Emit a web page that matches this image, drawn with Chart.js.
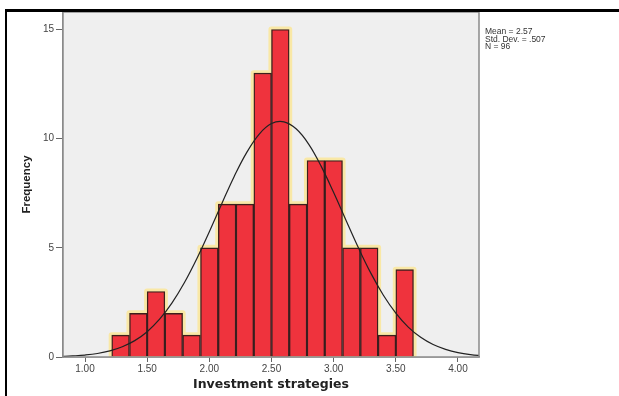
<!DOCTYPE html>
<html>
<head>
<meta charset="utf-8">
<script src="https://cdn.jsdelivr.net/npm/chart.js@4/dist/chart.umd.min.js"></script>
<style>
    html, body { margin: 0; padding: 0; background: #fff; }
    canvas { display: block; }
</style>
</head>
<body>
<canvas id="histChart" width="619" height="396"></canvas>
<script>
// histogram bins (centres) and counts
const binCenters = [1.286, 1.429, 1.571, 1.714, 1.857, 2.000, 2.143, 2.286, 2.429,
    2.571, 2.714, 2.857, 3.000, 3.143, 3.286, 3.429, 3.571];
const frequencies = [1, 2, 3, 2, 1, 5, 7, 7, 13, 15, 7, 9, 9, 5, 5, 1, 4];

// normal curve
const curveX = [0.8, 0.9, 1.0, 1.1, 1.2, 1.3, 1.4, 1.5, 1.6, 1.7, 1.8, 1.9, 2.0, 2.1, 2.2,
    2.3, 2.4, 2.5, 2.6, 2.7, 2.8, 2.9, 3.0, 3.1, 3.2, 3.3, 3.4, 3.5, 3.6, 3.7, 3.8, 3.9, 4.0, 4.1, 4.2];
const curveY = [0.02, 0.05, 0.09, 0.16, 0.28, 0.47, 0.75, 1.16, 1.73, 2.48, 3.41, 4.51, 5.74, 7.02, 8.27,
    9.36, 10.20, 10.69, 10.77, 10.44, 9.74, 8.73, 7.53, 6.25, 4.99, 3.83, 2.83, 2.01, 1.37, 0.90, 0.57, 0.35, 0.20, 0.11, 0.06];

const xTicks = [1.0, 1.5, 2.0, 2.5, 3.0, 3.5, 4.0];
const yTicks = [0, 5, 10, 15];
const statLines = ['Mean = 2.57', 'Std. Dev. = .507', 'N = 96'];

// outline around the whole histogram (the pale yellow glow)
let half = (binCenters[1] - binCenters[0]) / 2;
let outline = [{x: binCenters[0] - half, y: 0}];
binCenters.forEach(function(c, i){
    outline.push({x: c - half, y: frequencies[i]});
    outline.push({x: c + half, y: frequencies[i]});
});
let lastC = binCenters[binCenters.length - 1];
outline.push({x: lastC + half, y: 0});
outline.push({x: binCenters[0] - half, y: 0});

const framePlugin = {
    id: 'framePlugin',
    beforeDatasetsDraw: function(chart){
        let ctx = chart.ctx;
        let a = chart.chartArea;
        ctx.save();
        ctx.fillStyle = '#efefef';
        ctx.fillRect(a.left, a.top, a.right - a.left, a.bottom - a.top);
        ctx.restore();
    },
    afterDraw: function(chart){
        let ctx = chart.ctx;
        let a = chart.chartArea;
        ctx.save();
        ctx.strokeStyle = '#8a8a8a';
        ctx.lineWidth = 1.5;
        ctx.strokeRect(a.left, a.top, a.right - a.left, a.bottom - a.top);

        // black outer frame
        ctx.fillStyle = '#000';
        ctx.fillRect(5, 9, 614, 3);
        ctx.fillRect(5, 9, 2, 387);

        ctx.fillStyle = '#333';
        ctx.font = '8.5px "Liberation Sans", Arial, sans-serif';
        ctx.textBaseline = 'middle';
        statLines.forEach(function(t, i){
            ctx.fillText(t, 485, 32 + i * 7.5);
        });
        ctx.restore();
    }
};

new Chart(document.getElementById('histChart'), {
    type: 'bar',
    data: {
        datasets: [{
            type: 'line',
            data: curveX.map(function(x, i){ return {x: x, y: curveY[i]}; }),
            borderColor: '#222',
            borderWidth: 1.2,
            pointRadius: 0,
            tension: 0.4,
            order: 1
        }, {
            type: 'bar',
            data: binCenters.map(function(c, i){ return {x: c, y: frequencies[i]}; }),
            backgroundColor: '#ef333d',
            borderColor: 'rgba(50, 20, 20, 0.95)',
            borderWidth: 1.4,
            barPercentage: 1,
            categoryPercentage: 1,
            order: 2
        }, {
            type: 'line',
            data: outline,
            borderColor: '#f9e8a6',
            borderWidth: 6,
            borderJoinStyle: 'round',
            pointRadius: 0,
            tension: 0,
            fill: false,
            order: 3
        }]
    },
    options: {
        responsive: false,
        animation: false,
        devicePixelRatio: 1,
        layout: {
            padding: {left: 0, right: 140, top: 12, bottom: 0}
        },
        plugins: {
            legend: {display: false},
            tooltip: {enabled: false}
        },
        scales: {
            x: {
                type: 'linear',
                min: 0.823,
                max: 4.169,
                offset: false,
                afterFit: function(scale){ scale.height = 39; },
                afterBuildTicks: function(scale){
                    scale.ticks = xTicks.map(function(v){ return {value: v}; });
                },
                grid: {
                    drawOnChartArea: false,
                    drawTicks: true,
                    tickLength: 5,
                    color: '#666',
                    offset: false
                },
                border: {display: true, color: '#8a8a8a', width: 1.5},
                ticks: {
                    padding: 1,
                    color: '#444',
                    maxRotation: 0,
                    font: {family: '"Liberation Sans", Arial, sans-serif', size: 10},
                    callback: function(v){ return Number(v).toFixed(2); }
                },
                title: {
                    display: true,
                    text: 'Investment strategies',
                    color: '#222',
                    padding: {top: 0, bottom: 4},
                    font: {family: '"DejaVu Sans", Verdana, sans-serif', size: 12.5, weight: 'bold'}
                }
            },
            y: {
                min: 0,
                max: 15.8,
                afterFit: function(scale){ scale.width = 63; },
                afterBuildTicks: function(scale){
                    scale.ticks = yTicks.map(function(v){ return {value: v}; });
                },
                grid: {
                    drawOnChartArea: false,
                    drawTicks: true,
                    tickLength: 7,
                    color: '#666'
                },
                border: {display: true, color: '#8a8a8a', width: 1.5},
                ticks: {
                    padding: 2,
                    color: '#444',
                    font: {family: '"Liberation Sans", Arial, sans-serif', size: 10}
                },
                title: {
                    display: true,
                    text: 'Frequency',
                    color: '#222',
                    padding: {top: 20, bottom: 0},
                    font: {family: '"Liberation Sans", Arial, sans-serif', size: 11.5, weight: 'bold'}
                }
            }
        }
    },
    plugins: [framePlugin]
});
</script>
</body>
</html>
